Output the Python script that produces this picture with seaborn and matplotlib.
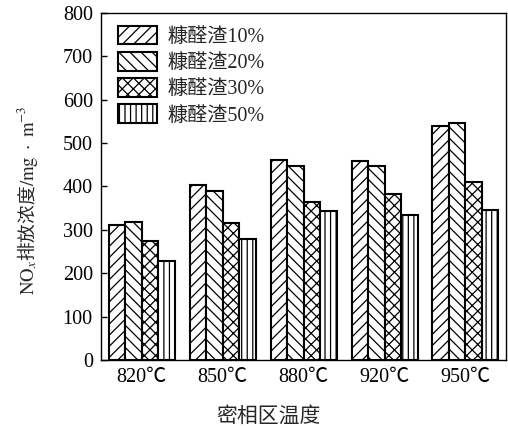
import seaborn as sns
import matplotlib.pyplot as plt
import matplotlib.patches as mpatches
import pandas as pd

# 数据
temps = ["820℃", "850℃", "880℃", "920℃", "950℃"]
series = ["糠醛渣10%", "糠醛渣20%", "糠醛渣30%", "糠醛渣50%"]
v10 = [311, 404, 460, 458, 540]
v20 = [318, 390, 446, 448, 546]
v30 = [275, 315, 365, 383, 411]
v50 = [228, 278, 344, 333, 346]
hatches = ["///", "\\\\\\", "xxx", "|||"]

df = pd.DataFrame({
    "temp": temps * 4,
    "series": [s for s in series for _ in temps],
    "nox": v10 + v20 + v30 + v50,
})

sns.set_theme(style="white")
plt.rcParams["font.family"] = ["Liberation Serif", "Noto Sans CJK SC", "DejaVu Sans"]
plt.rcParams["mathtext.fontset"] = "stix"
plt.rcParams["hatch.linewidth"] = 0.9

fig = plt.figure(figsize=(5.08, 4.28), dpi=100)
ax = fig.add_axes([0.199, 0.159, 0.797, 0.811])

sns.barplot(
    data=df, x="temp", y="nox", hue="series",
    palette=["white"] * 4, edgecolor="black", linewidth=1.5,
    width=0.815, gap=0, legend=False, ax=ax, errorbar=None,
)

# 设置填充图案
for cont, h in zip(ax.containers, hatches):
    for bar in cont:
        bar.set_hatch(h)
        bar.set_facecolor("white")

ax.set_xlim(-0.5, 4.5)
ax.set_ylim(0, 800)
ax.set_yticks(range(0, 801, 100))
for sp in ax.spines.values():
    sp.set_color("black")
    sp.set_linewidth(1.0)
ax.tick_params(axis="y", direction="in", length=4, width=1, left=True, labelsize=14.5, colors="black", pad=6)
ax.tick_params(axis="x", length=0, labelsize=14.5, colors="black", pad=6)

ax.set_xlabel("密相区温度", fontsize=15, family=["Noto Sans CJK SC"])
ax.xaxis.set_label_coords(0.412, -0.128)
ax.set_ylabel(r"$\mathrm{NO}_x$排放浓度$\mathrm{/mg\ \cdot\ m^{-3}}$", fontsize=13.5,
              family=["Noto Sans CJK SC"])
ax.yaxis.set_label_coords(-0.15, 0.46)

handles = [mpatches.Patch(facecolor="white", edgecolor="black", linewidth=1.5, hatch=h, label=s)
           for s, h in zip(series, hatches)]
ax.legend(handles=handles, loc="upper left", bbox_to_anchor=(0.042, 0.963), frameon=False,
          fontsize=14.5, handlelength=1.95, handleheight=1.05, labelspacing=0.25,
          handletextpad=0.5, borderpad=0, borderaxespad=0)

fig.savefig("out.png", dpi=100)
